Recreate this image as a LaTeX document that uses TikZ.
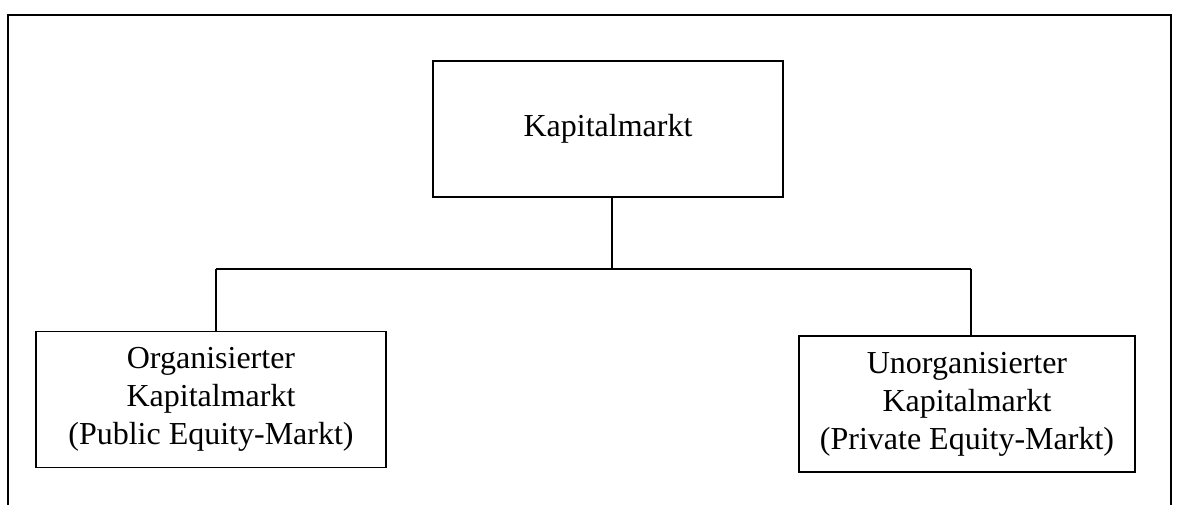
\documentclass[tikz,border=0pt]{standalone}
\usepackage{fontspec}
\setmainfont{Liberation Serif}
\begin{document}
\begin{tikzpicture}[x=1pt,y=-1pt,
  box/.style={draw,line width=1.9pt,minimum width=#1,minimum height=136pt,inner sep=0pt,align=center,font=\fontsize{32}{38}\selectfont},
  conn/.style={line width=1.8pt}]
\clip (0,0) rectangle (1179,504);
\fill[white] (0,0) rectangle (1179,504);
\node[draw,line width=2.2pt,minimum width=1163pt,minimum height=520pt,anchor=north west,inner sep=0pt] (frame) at (7,14) {};
\node[box=350pt] (top) at (608,129) {Kapitalmarkt};
\node[box=350pt] (left) at (211,399.5) {Organisierter\\Kapitalmarkt\\(Public Equity-Markt)};
\node[box=336pt] (right) at (967,404) {Unorganisierter\\Kapitalmarkt\\(Private Equity-Markt)};
\coordinate (tj) at (612,197);
\coordinate (mid) at (612,269);
\coordinate (lj) at (216,269);
\coordinate (rj) at (971,269);
\draw[conn] (tj) -- (mid);
\draw[conn] (lj) -- (rj);
\draw[conn] (lj) -- (lj |- left.north);
\draw[conn] (rj) -- (rj |- right.north);
\end{tikzpicture}
\end{document}
